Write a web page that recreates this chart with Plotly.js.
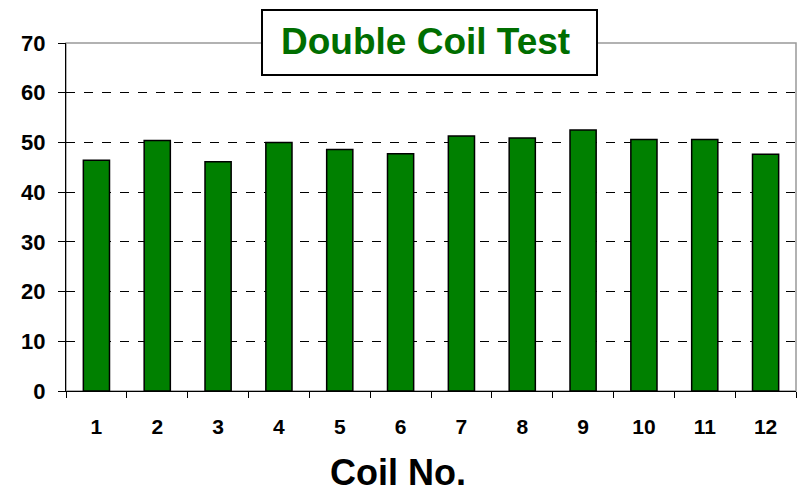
<!DOCTYPE html>
<html>
<head>
<meta charset="utf-8">
<script src="https://cdn.plot.ly/plotly-3.0.1.min.js"></script>
<style>html,body{margin:0;padding:0;background:#fff;}#chart{width:800px;height:494px;}</style>
</head>
<body>
<div id="chart"></div>
<script>
const coils = ["1","2","3","4","5","6","7","8","9","10","11","12"];
const values = [46.4, 50.4, 46.1, 50.0, 48.6, 47.7, 51.3, 50.9, 52.5, 50.6, 50.6, 47.6];
const yTicks = [0, 10, 20, 30, 40, 50, 60, 70];
const chartTitle = "Double Coil Test";
const xTitle = "Coil No.";

const FONT = "Liberation Sans, Arial, sans-serif";

const trace = {
  type: "bar",
  x: coils,
  y: values,
  marker: { color: "#008000", line: { color: "#000000", width: 1.5 } },
  hoverinfo: "x+y"
};

const layout = {
  width: 800, height: 494,
  margin: { l: 66, r: 4, t: 43, b: 103 },
  paper_bgcolor: "#ffffff",
  plot_bgcolor: "#ffffff",
  bargap: 0.57,
  showlegend: false,
  font: { family: FONT, color: "#000000" },
  xaxis: {
    type: "category",
    showline: true, linecolor: "#000000", linewidth: 1,
    ticks: "outside", tickson: "boundaries", ticklen: 6, tickcolor: "#000000",
    ticklabelstandoff: 17,
    tickfont: { family: FONT, size: 21, color: "#000000", weight: "bold" },
    showgrid: false, zeroline: false
  },
  yaxis: {
    range: [0, 70],
    tickvals: yTicks,
    showline: true, linecolor: "#000000", linewidth: 1,
    ticks: "outside", ticklen: 7, tickcolor: "#000000",
    ticklabelstandoff: 8,
    tickfont: { family: FONT, size: 22, color: "#000000", weight: "bold" },
    showgrid: true, gridcolor: "#000000", gridwidth: 1, griddash: "dash",
    zeroline: false
  },
  shapes: [
    { type: "rect", xref: "paper", yref: "paper", x0: 0, x1: 1, y0: 0, y1: 1,
      line: { color: "#999999", width: 1.5 }, fillcolor: "rgba(0,0,0,0)", layer: "below" },
    { type: "rect", xref: "paper", yref: "paper", x0: 0.2685, x1: 0.7274, y0: 0.908, y1: 1.0948,
      line: { color: "#000000", width: 2 }, fillcolor: "#ffffff", layer: "above" }
  ],
  annotations: [
    { text: "<b>" + chartTitle + "</b>", xref: "paper", yref: "paper", x: 0.493, y: 1.003,
      xanchor: "center", yanchor: "middle", showarrow: false,
      font: { family: FONT, size: 37, color: "#006e00" } },
    { text: "<b>" + xTitle + "</b>", xref: "paper", yref: "paper", x: 0.455, y: -0.233,
      xanchor: "center", yanchor: "middle", showarrow: false,
      font: { family: FONT, size: 36, color: "#000000" } }
  ]
};

Plotly.newPlot("chart", [trace], layout, { displayModeBar: false, staticPlot: true });
</script>
</body>
</html>
